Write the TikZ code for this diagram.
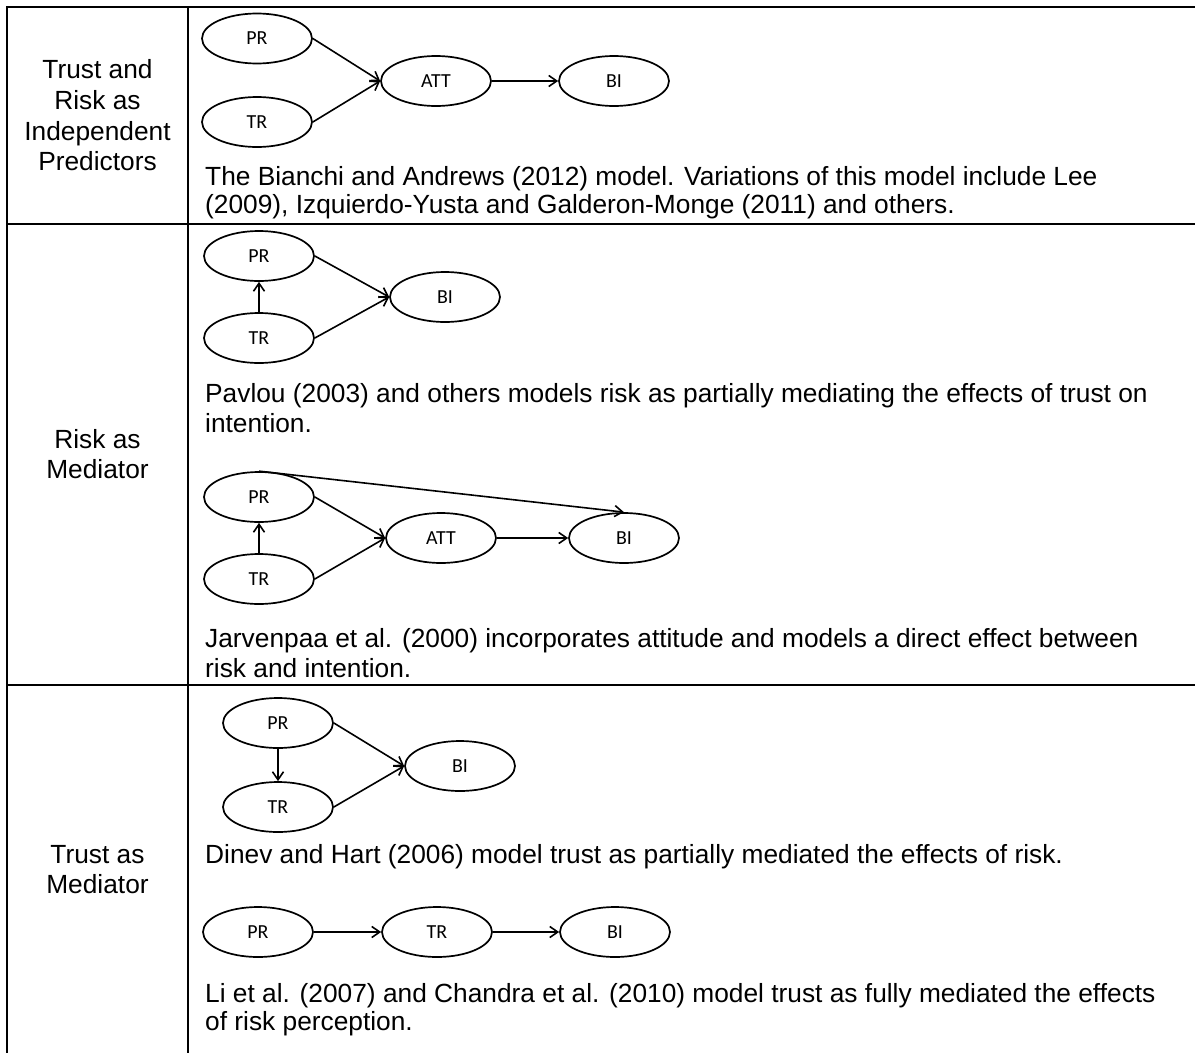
\documentclass[tikz,border=0pt]{standalone}
\usepackage{fontspec}
\setmainfont{Liberation Sans}
\newfontfamily\ovalfont{Carlito}
\usetikzlibrary{arrows.meta,shapes.geometric}

\begin{document}
\begin{tikzpicture}[x=1bp,y=-1bp,
  tablerule/.style={line width=2.2bp,line cap=rect},
  oval/.style={draw,ellipse,line width=1.7bp,minimum width=110bp,minimum height=50bp,
    inner sep=0pt,font=\ovalfont\fontsize{20}{20}\selectfont},
  link/.style={line width=1.6bp,-{Straight Barb[length=8bp,width=11bp]}},
  body/.style={anchor=base west,inner sep=0pt,font=\fontsize{26.4}{30}\selectfont},
  rowhead/.style={anchor=base,inner sep=0pt,font=\fontsize{26.4}{30}\selectfont}]

\useasboundingbox (0,0) rectangle (1195,1053);

% table frame
\draw[tablerule] (1195,7) -- (7,7) -- (7,1053);
\draw[tablerule] (188,7) -- (188,1053);
\draw[tablerule] (7,224) -- (1195,224);
\draw[tablerule] (7,685) -- (1195,685);

% row headings
\node[rowhead] (h1a) at (97.5,78)  {Trust and};
\node[rowhead] (h1b) at (97.5,109) {Risk as};
\node[rowhead] (h1c) at (97.5,140) {Independent};
\node[rowhead] (h1d) at (97.5,170) {Predictors};
\node[rowhead] (h2a) at (97.5,448) {Risk as};
\node[rowhead] (h2b) at (97.5,478) {Mediator};
\node[rowhead] (h3a) at (97.5,863) {Trust as};
\node[rowhead] (h3b) at (97.5,893) {Mediator};

% independent predictors
\node[oval] (pr1)  at (257,38.5) {PR};
\node[oval] (tr1)  at (257,122)  {TR};
\node[oval] (att1) at (436,81)   {ATT};
\node[oval] (bi1)  at (614,81)   {BI};
\draw[link] (pr1.east) -- (att1.west);
\draw[link] (tr1.east) -- (att1.west);
\draw[link] (att1.east) -- (bi1.west);
\node[body] (t1a) at (205,185) {The Bianchi and Andrews (2012) model. Variations of this model include Lee};
\node[body] (t1b) at (205,213) {(2009), Izquierdo-Yusta and Galderon-Monge (2011) and others.};

% risk as mediator: partial
\node[oval] (pr2) at (259,256) {PR};
\node[oval] (tr2) at (259,338) {TR};
\node[oval] (bi2) at (445,297) {BI};
\draw[link] (tr2.north) -- (pr2.south);
\draw[link] (pr2.east) -- (bi2.west);
\draw[link] (tr2.east) -- (bi2.west);
\node[body] (t2a) at (205,402) {Pavlou (2003) and others models risk as partially mediating the effects of trust on};
\node[body] (t2b) at (205,432) {intention.};

% risk as mediator: with attitude
\node[oval] (pr3)  at (259,497) {PR};
\node[oval] (tr3)  at (259,579) {TR};
\node[oval] (att3) at (441,538) {ATT};
\node[oval] (bi3)  at (624,538) {BI};
\draw[link] (tr3.north) -- (pr3.south);
\draw[link] (pr3.east) -- (att3.west);
\draw[link] (tr3.east) -- (att3.west);
\draw[link] (att3.east) -- (bi3.west);
\draw[link] (pr3.north) -- (bi3.north);
\node[body] (t2c) at (205,647) {Jarvenpaa et al. (2000) incorporates attitude and models a direct effect between};
\node[body] (t2d) at (205,677) {risk and intention.};

% trust as mediator: partial
\node[oval] (pr4) at (278,723) {PR};
\node[oval] (tr4) at (278,807) {TR};
\node[oval] (bi4) at (460,766) {BI};
\draw[link] (pr4.south) -- (tr4.north);
\draw[link] (pr4.east) -- (bi4.west);
\draw[link] (tr4.east) -- (bi4.west);
\node[body] (t3a) at (205,863) {Dinev and Hart (2006) model trust as partially mediated the effects of risk.};

% trust as mediator: full
\node[oval] (pr5) at (258,932) {PR};
\node[oval] (tr5) at (437,932) {TR};
\node[oval] (bi5) at (615,932) {BI};
\draw[link] (pr5.east) -- (tr5.west);
\draw[link] (tr5.east) -- (bi5.west);
\node[body] (t3b) at (205,1002) {Li et al. (2007) and Chandra et al. (2010) model trust as fully mediated the effects};
\node[body] (t3c) at (205,1030) {of risk perception.};
\end{tikzpicture}
\end{document}
